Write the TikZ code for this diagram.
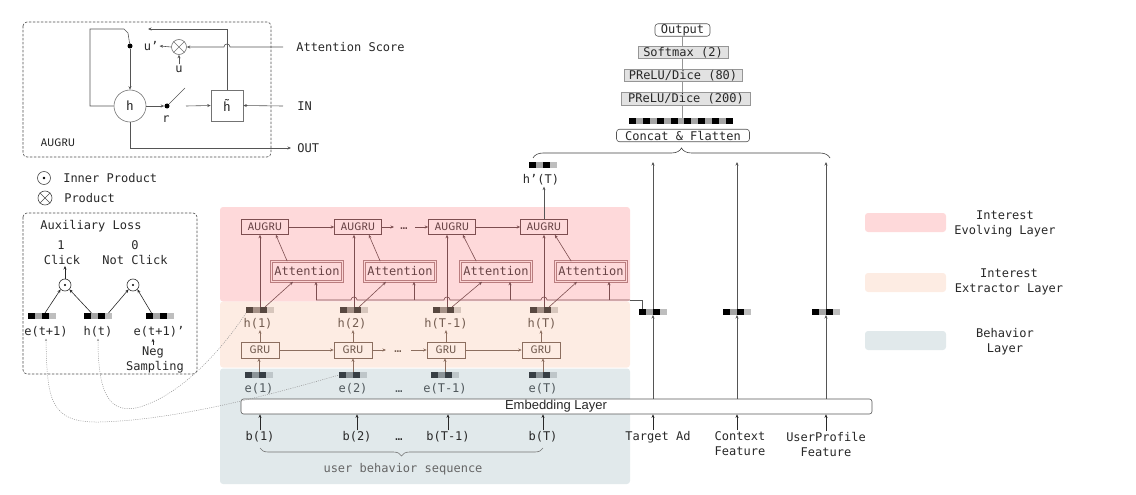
\documentclass[tikz,border=0pt]{standalone}
\usepackage{fontspec}
\setmainfont{DejaVu Sans Mono}
\newfontfamily\boxf{Fira Sans}
\newfontfamily\helv{Liberation Sans}
\usetikzlibrary{arrows.meta,decorations.pathreplacing,calc}
\definecolor{pinkbg}{RGB}{254,217,218}
\definecolor{orangebg}{RGB}{253,236,227}
\definecolor{bluebg}{RGB}{225,233,235}
\definecolor{pline}{RGB}{125,78,80}
\definecolor{ptext}{RGB}{105,68,70}
\definecolor{attline}{RGB}{185,125,127}
\definecolor{attfill}{RGB}{252,212,212}
\definecolor{oline}{RGB}{140,110,95}
\definecolor{otext}{RGB}{115,92,80}
\definecolor{hdark}{RGB}{88,72,64}
\definecolor{hmid}{RGB}{165,145,135}
\definecolor{hlight}{RGB}{215,198,188}
\definecolor{edark}{RGB}{55,62,68}
\definecolor{emid}{RGB}{140,148,152}
\definecolor{elight}{RGB}{190,198,201}
\definecolor{etext}{RGB}{80,88,92}
\definecolor{vmid}{RGB}{165,165,165}
\definecolor{vlight}{RGB}{190,190,190}
\definecolor{ink}{RGB}{40,40,40}
\definecolor{lgray}{RGB}{85,85,85}
\definecolor{boxgray}{RGB}{226,226,226}
\definecolor{boxline}{RGB}{150,150,150}
\definecolor{dotgray}{RGB}{150,150,150}
\begin{document}
\begin{tikzpicture}[x=1pt,y=-1pt,line width=0.6pt,
  font=\fontsize{12}{15}\selectfont, text=ink,
  arr/.style={-{Stealth[length=3.5pt,width=3pt]}},
  dotarr/.style={{Stealth[length=2.5pt,width=2.2pt]}-,dotgray,line width=0.5pt,dash pattern=on 1pt off 1.2pt},
  dashbox/.style={draw=black!70,dash pattern=on 2.5pt off 1.5pt,rounded corners=4pt},
  vec/.style n args={3}{minimum width=28pt,minimum height=6pt,inner sep=0pt,outer sep=0pt,fill=#3,
    path picture={\fill[#1] (path picture bounding box.north west) rectangle ++(7,6);
      \fill[#2] ([xshift=7pt]path picture bounding box.north west) rectangle ++(7,6);
      \fill[#1] ([xshift=14pt]path picture bounding box.north west) rectangle ++(7,6);}},
  longvec/.style={minimum width=104pt,minimum height=6pt,inner sep=0pt,outer sep=0pt,fill=vmid,
    path picture={\foreach \k in {0,2,...,14}{\fill[black] ([xshift=\k*6.933pt]path picture bounding box.north west) rectangle ++(6.933,6);}}},
  augrubox/.style={draw=pline,text=ptext,font=\boxf\fontsize{11}{13}\selectfont,minimum width=47pt,minimum height=15pt,inner sep=0pt},
  attbox/.style={draw=attline,double=attfill,double distance=0.9pt,text=ptext,minimum width=71pt,minimum height=20pt,inner sep=0pt},
  grubox/.style={draw=oline,text=otext,font=\boxf\fontsize{11}{13}\selectfont,minimum width=38pt,minimum height=16pt,inner sep=0pt},
  parr/.style={arr,pline},
  oarr/.style={arr,oline},
  graybox/.style={draw=boxline,fill=boxgray,minimum height=12.5pt,inner sep=0pt},
  whitebox/.style={draw=lgray,fill=white,rounded corners=3pt,minimum height=12.5pt,inner sep=0pt},
  stackline/.style={draw=boxline},
  hlab/.style={text=otext,inner sep=1pt},
  elab/.style={text=etext,inner sep=1pt},
  blab/.style={text=ink,inner sep=1pt},
  legbox/.style={rounded corners=3pt},
  dotnode/.style={circle,fill=black,inner sep=0pt,minimum size=5pt}
]
\useasboundingbox (0,0) rectangle (1136,495);

% ---------- layer backgrounds ----------
\fill[pinkbg,rounded corners=3pt] (220,207) rectangle (630,301.5);
\fill[orangebg,rounded corners=3pt] (220,301.5) rectangle (630,367.5);
\fill[bluebg,rounded corners=3pt] (220,368.5) rectangle (630,484);

% ---------- legend (right) ----------
\fill[pinkbg,legbox] (865,213) rectangle (946,232);
\fill[orangebg,legbox] (865,273) rectangle (946,292);
\fill[bluebg,legbox] (865,331) rectangle (946,350);
\node[align=center,inner sep=0pt] (lg1) at (1005,224) {Interest\\Evolving Layer};
\node[align=center,inner sep=0pt] (lg2) at (1009,282) {Interest\\Extractor Layer};
\node[align=center,inner sep=0pt] (lg3) at (1005,342) {Behavior\\Layer};

% ---------- AUGRU cell (top left) ----------
\draw[dashbox] (23,22) rectangle (271,157);
\node[circle,draw=black!55,minimum size=32pt,inner sep=0pt,font=\boxf\fontsize{13}{13}\selectfont] (hc) at (130,106) {h};
\node[draw=black!55,minimum width=32pt,minimum height=31pt,inner sep=0pt,font=\boxf\fontsize{13}{13}\selectfont] (ht) at (227,105.5) {\~{h}};
\node[circle,draw=black!55,minimum size=15pt,inner sep=0pt] (ot) at (179,47) {};
\draw[black!55,line width=0.5pt] (ot.45) -- (ot.225) (ot.135) -- (ot.315);
\node[dotnode] (du) at (130,46) {};
\node[dotnode] (dr) at (167,106) {};
\node[inner sep=1pt] (ul) at (151,46) {u’};
\node[inner sep=1pt] (uu) at (179,69) {u};
\node[inner sep=1pt] (rl) at (166,119) {r};
\node[anchor=west,inner sep=0pt] (asl) at (296,47) {Attention Score};
\node[anchor=west,inner sep=0pt] (inl) at (297,106) {IN};
\node[anchor=west,inner sep=0pt] (outl) at (297,148) {OUT};
\node[font=\boxf\fontsize{11}{13}\selectfont] (augl) at (58,143) {AUGRU};
\coordinate (asrc) at (283,47);
\coordinate (insrc) at (283,106);
\coordinate (outend) at (291,148);
\coordinate (upend) at (148,29);
\coordinate (lev) at (185,88);
\coordinate (swst) at (186,106);
\draw[arr,lgray] (asrc) -- (230,47) .. controls (230,43) and (224,43) .. (224,47) -- (ot.east);
\draw[arr,lgray] (ht.north) -- (227,29) -- (upend);
\draw[lgray] (hc.west) -- (90,106) -- (90,29) -- (124,29) -- (128,33) -- (du);
\draw[arr,lgray] (du) -- (hc.north);
\draw[arr,lgray] (ot.west) -- (ul.east);
\draw[arr,lgray] (uu.north) -- (ot.south);
\draw[arr,lgray] (hc.east) -- (dr);
\draw[lgray] (dr) -- (lev);
\draw[arr,lgray] (swst) -- (ht.west);
\draw[arr,lgray] (insrc) -- (ht.east);
\draw[arr,lgray] (hc.south) |- (outend);

% ---------- symbols legend ----------
\node[circle,draw=black!70,minimum size=13pt,inner sep=0pt] (lgo) at (44,178) {};
\fill[black] (lgo.center) circle (1.3pt);
\node[anchor=west,inner sep=0pt] (lgot) at (63,178) {Inner Product};
\node[circle,draw=black!70,minimum size=14pt,inner sep=0pt] (lgx) at (45,198) {};
\draw[black!70,line width=0.5pt] (lgx.45) -- (lgx.225) (lgx.135) -- (lgx.315);
\node[anchor=west,inner sep=0pt] (lgxt) at (64,198) {Product};

% ---------- auxiliary loss ----------
\draw[dashbox] (23,213) rectangle (197,374);
\node (auxl) at (91,226) {Auxiliary Loss};
\node[inner sep=1pt] (one) at (61,245) {1};
\node[inner sep=1pt] (ck) at (62,260) {Click};
\node[inner sep=1pt] (zero) at (135,245) {0};
\node[inner sep=1pt] (nck) at (135,260) {Not Click};
\node[circle,draw=black!80,minimum size=12pt,inner sep=0pt] (o1) at (65,285) {};
\fill[black] (o1.center) circle (1.2pt);
\node[circle,draw=black!80,minimum size=12pt,inner sep=0pt] (o2) at (133,285) {};
\fill[black] (o2.center) circle (1.2pt);
\draw[arr,ink] (o1.north) -- (o1.north |- ck.south);
\node[vec={black}{vmid}{vlight}] (av1) at (42,316) {};
\node[vec={black}{vmid}{vlight}] (av2) at (97.5,316) {};
\node[vec={black}{vmid}{vlight}] (av3) at (159.5,316) {};
\node[inner sep=1pt] (ael) at (46,332) {e(t+1)};
\node[inner sep=1pt] (ahl) at (98,332) {h(t)};
\node[inner sep=1pt] (anl) at (159,332) {e(t+1)’};
\node[inner sep=1pt] (neg) at (153,352) {Neg};
\node[inner sep=1pt] (samp) at (155,367) {Sampling};
\draw[arr,ink] (neg.north) -- (neg.north |- anl.south);
\draw[arr,ink] ([xshift=3pt]av1.north) -- (o1.225);
\draw[arr,ink] ([xshift=-6pt]av2.north) -- (o1.315);
\draw[arr,ink] ([xshift=11pt]av2.north) -- (o2.225);
\draw[arr,ink] ([xshift=-8pt]av3.north) -- (o2.315);

% ---------- interest evolving layer ----------
\node[augrubox] (a1) at (265,227) {AUGRU};
\node[augrubox] (a2) at (358,227) {AUGRU};
\node[augrubox] (a3) at (452,227) {AUGRU};
\node[augrubox] (a4) at (544,227) {AUGRU};
\node[text=ptext,inner sep=0pt] (adots) at (404,229) {…};
\coordinate (ad1) at (394,227);
\coordinate (ad2) at (415,227);
\draw[parr] (a1.east) -- (a2.west);
\draw[parr] (a2.east) -- (ad1);
\draw[parr] (ad2) -- (a3.west);
\draw[parr] (a3.east) -- (a4.west);
\node[attbox] (t1) at (307,271.5) {Attention};
\node[attbox] (t2) at (400,271.5) {Attention};
\node[attbox] (t3) at (496,271.5) {Attention};
\node[attbox] (t4) at (591,271.5) {Attention};

% ---------- interest extractor layer ----------
\node[vec={hdark}{hmid}{hlight}] (hv1) at (260,310) {};
\node[vec={hdark}{hmid}{hlight}] (hv2) at (354,310) {};
\node[vec={hdark}{hmid}{hlight}] (hv3) at (447,310) {};
\node[vec={hdark}{hmid}{hlight}] (hv4) at (544,310) {};
\node[hlab] (hl1) at (258,323.5) {h(1)};
\node[hlab] (hl2) at (352,323.5) {h(2)};
\node[hlab] (hl3) at (446,323.5) {h(T-1)};
\node[hlab] (hl4) at (542,323.5) {h(T)};
\node[grubox] (g1) at (260,350) {GRU};
\node[grubox] (g2) at (353,350) {GRU};
\node[grubox] (g3) at (446,350) {GRU};
\node[grubox] (g4) at (541,350) {GRU};
\node[text=otext,inner sep=0pt] (gdots) at (398,352) {…};
\coordinate (gd1) at (386,350);
\coordinate (gd2) at (411,350);
\draw[oarr] (g1.east) -- (g2.west);
\draw[oarr] (g2.east) -- (gd1);
\draw[oarr] (gd2) -- (g3.west);
\draw[oarr] (g3.east) -- (g4.west);
\foreach \i in {1,2,3,4}{
  \draw[oarr] (g\i.north) -- (g\i.north |- hl\i.south);
  \draw[parr] (hv\i.north) -- (hv\i.north |- a\i.south);
  \draw[parr] ([xshift=5pt]hv\i.north) -- ([xshift=-14pt]t\i.south);
  \draw[parr] ([xshift=16pt]t\i.north west) -- ([xshift=-13pt]a\i.south east);
}

% ---------- behavior layer ----------
\node[vec={edark}{emid}{elight}] (ev1) at (259,375) {};
\node[vec={edark}{emid}{elight}] (ev2) at (353,375) {};
\node[vec={edark}{emid}{elight}] (ev3) at (445,375) {};
\node[vec={edark}{emid}{elight}] (ev4) at (543,375) {};
\node[elab] (el1) at (259,389) {e(1)};
\node[elab] (el2) at (353,389) {e(2)};
\node[elab] (el3) at (445,389) {e(T-1)};
\node[elab] (el4) at (543,389) {e(T)};
\node[text=etext,inner sep=0pt] (edots) at (399,392) {…};
\foreach \i in {1,2,3,4}{
  \draw[oarr] (ev\i.north) -- (ev\i.north |- g\i.south);
}
\node[draw=black!65,fill=white,rounded corners=2.5pt,minimum width=631pt,minimum height=15pt,inner sep=0pt] (emb) at (556.5,406.5) {};
\node[font=\helv\fontsize{13}{15}\selectfont,inner sep=0pt] (embt) at (556,406.5) {Embedding Layer};
\node[blab] (bl1) at (260,437) {b(1)};
\node[blab] (bl2) at (357,437) {b(2)};
\node[blab] (bl3) at (448,437) {b(T-1)};
\node[blab] (bl4) at (543,437) {b(T)};
\node[inner sep=0pt] (bdots) at (399,440) {…};
\foreach \i in {1,2,3,4}{
  \draw[arr,ink] (bl\i.north) -- (bl\i.north |- emb.south);
}
\coordinate (bb1) at (260,448);
\coordinate (bb2) at (543,448);
\draw[black!55,decorate,decoration={brace,mirror,amplitude=8pt}] (bb1) -- (bb2);
\node[text=black!60] (ubs) at (403,469) {user behavior sequence};

% ---------- target ad line to attentions ----------
\node[vec={black}{vmid}{vlight}] (tv) at (653,312) {};
\node[vec={black}{vmid}{vlight}] (cv) at (737,312) {};
\node[vec={black}{vmid}{vlight}] (uv) at (826,312) {};
\coordinate (tvl) at (642,309);
\coordinate (pedge) at (630,300);
\coordinate (tline) at (0,300);
\draw[lgray] (tvl) |- (pedge);
\draw[pline] (pedge) -- (547,300) .. controls (547,296) and (541,296) .. (541,300)
  -- (450,300) .. controls (450,296) and (444,296) .. (444,300)
  -- (357,300) .. controls (357,296) and (351,296) .. (351,300) -- (316,300);
\coordinate (t1b) at ([xshift=9pt]t1.south);
\coordinate (t2b) at ([xshift=14pt]t2.south);
\coordinate (t3b) at ([xshift=14pt]t3.south);
\coordinate (t4b) at ([xshift=18pt]t4.south);
\foreach \j in {t1b,t2b,t3b,t4b}{
  \draw[parr] (\j |- tline) -- (\j);
}

% ---------- right side features ----------
\node[inner sep=1pt] (tal) at (658,437) {Target Ad};
\node[align=center,inner sep=1pt] (cfl) at (740,443.5) {Context\\Feature};
\node[align=center,inner sep=1pt] (ufl) at (826,444.5) {UserProfile\\Feature};
\coordinate (brtop) at (0,162);
\foreach \v/\l in {tv/tal,cv/cfl,uv/ufl}{
  \draw[arr,ink] (\v |- \l.north) -- (\v |- emb.south);
  \draw[arr,lgray] (\v |- emb.north) -- (\v.south);
  \draw[arr,lgray] (\v.north) -- (\v |- brtop);
}

% ---------- h'(T) and top stack ----------
\node[inner sep=1pt] (hpl) at (541,180) {h’(T)};
\node[vec={black}{vmid}{vlight}] (hpv) at (543,165) {};
\draw[arr,lgray] (a4.north) -- (a4.north |- hpl.south);
\coordinate (tb1) at (533,158);
\coordinate (tb2) at (830,158);
\draw[black!75,decorate,decoration={brace,amplitude=10pt}] (tb1) -- (tb2);
\node[whitebox,minimum width=133pt] (cat) at (683,135.5) {Concat \& Flatten};
\node[longvec] (lv) at (681,121) {};
\node[graybox,minimum width=129pt] (p200) at (686,99) {PReLU/Dice (200)};
\node[graybox,minimum width=118pt] (p80) at (683,75.5) {PReLU/Dice (80)};
\node[graybox,minimum width=90pt] (smax) at (683,52.5) {Softmax (2)};
\node[whitebox,minimum width=55pt] (outp) at (682.5,30) {Output};
\draw[stackline] (outp.south) -- (outp.south |- smax.north)
  (outp.south |- smax.south) -- (outp.south |- p80.north)
  (outp.south |- p80.south) -- (outp.south |- p200.north)
  (outp.south |- p200.south) -- (outp.south |- lv.north);

% ---------- dotted links ----------
\draw[dotarr] (ael.south) .. controls (47,400) and (50,423) .. (100,422) .. controls (180,420) and (280,392) .. (ev2.west);
\draw[dotarr] (ahl.south) .. controls (98,395) and (110,415) .. (140,407) .. controls (185,393) and (225,345) .. (hv1.south west);
\end{tikzpicture}
\end{document}
